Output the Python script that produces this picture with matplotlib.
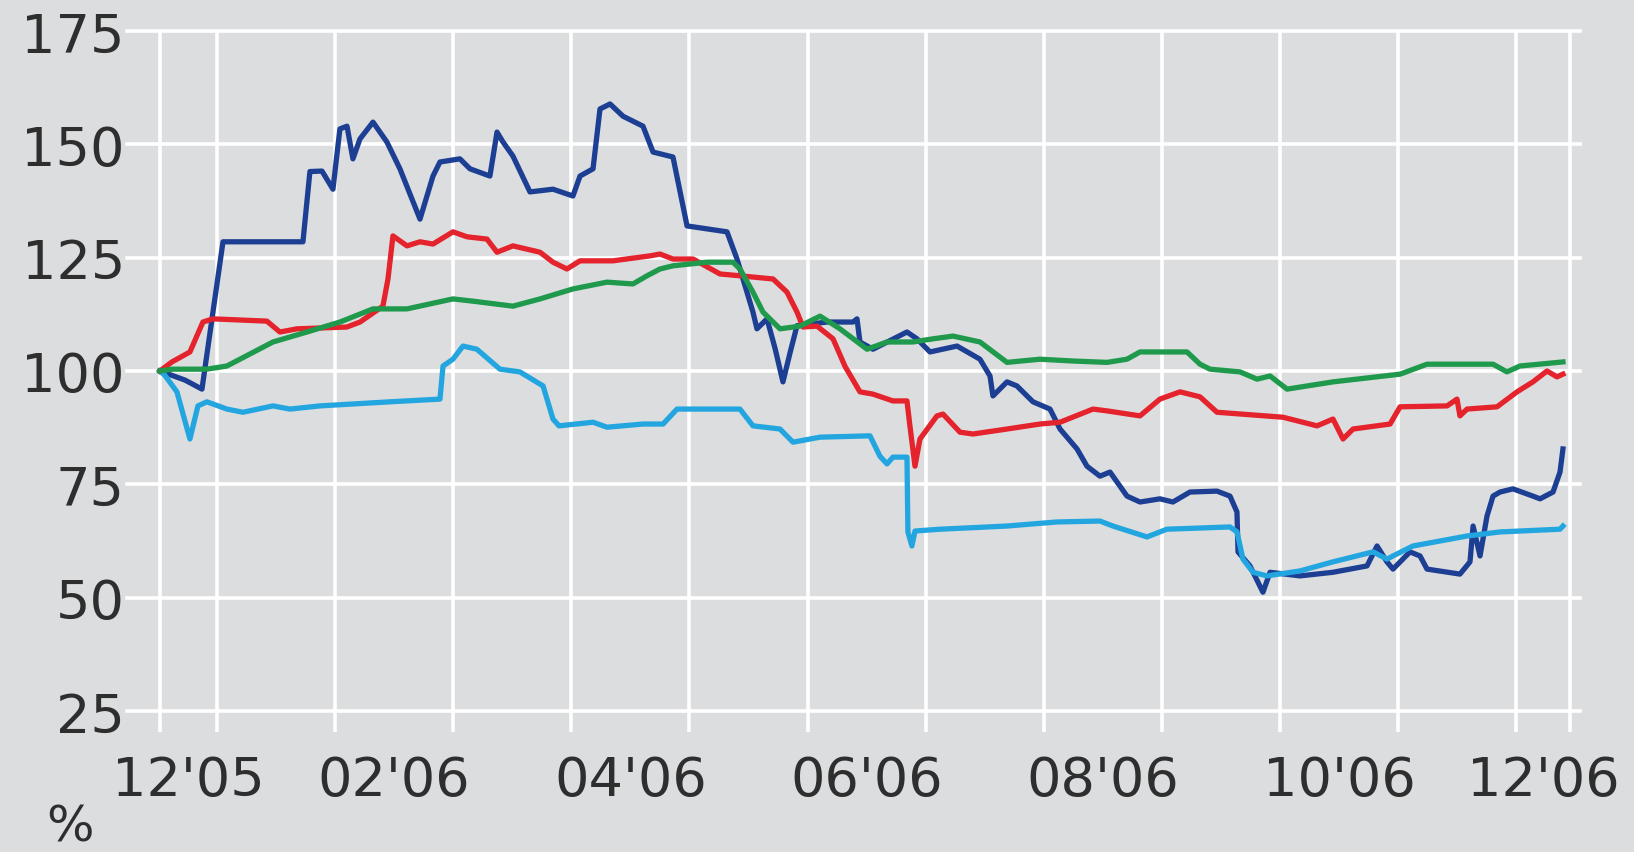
import matplotlib.pyplot as plt

# time axis: months since 1 Dec 2005 (1 = start of Jan '06, 12 = start of Dec '06)
t_start = 0.517
t_end = 12.456

t_navy = [0.517, 0.729, 0.873, 1.051, 1.728, 1.787, 1.889, 1.982, 2.041, 2.101, 2.151, 2.211, 2.321,
          2.439, 2.549, 2.719, 2.829, 2.888, 3.057, 3.142, 3.311, 3.371, 3.422, 3.506, 3.650, 3.845,
          4.014, 4.074, 4.184, 4.243, 4.328, 4.438, 4.607, 4.692, 4.861, 4.980, 5.318, 5.403, 5.538,
          5.572, 5.657, 5.725, 5.792, 5.852, 5.911, 6.165, 6.385, 6.419, 6.444, 6.554, 6.842, 6.927,
          7.037, 7.266, 7.460, 7.545, 7.570, 7.689, 7.773, 7.909, 8.053, 8.138, 8.282, 8.366, 8.476,
          8.561, 8.705, 8.815, 8.984, 9.094, 9.238, 9.467, 9.577, 9.636, 9.645, 9.746, 9.856, 9.916,
          10.170, 10.449, 10.737, 10.822, 10.906, 10.957, 11.101, 11.186, 11.245, 11.524, 11.609,
          11.635, 11.694, 11.753, 11.804, 11.863, 11.973, 12.142, 12.202, 12.312, 12.371, 12.396]
v_navy = [100, 98, 96, 128.5, 128.5, 144, 144.1, 140.1, 153.4, 154.0, 146.8, 151.2, 154.9,
          150.5, 144.6, 133.5, 143.0, 146.1, 146.8, 144.6, 143.0, 152.7, 150.5, 147.4, 139.5, 140.1,
          138.6, 143.0, 144.6, 157.8, 158.9, 156.2, 154.0, 148.3, 147.2, 132.0, 130.7, 124.7, 113.0,
          109.3, 111.5, 105, 97.6, 104, 110, 110.8, 110.8, 111.5, 106.4, 104.8, 108.6, 107.1,
          104.2, 105.5, 102.6, 98.9, 94.5, 97.6, 96.7, 93.2, 91.6, 87.2, 82.8, 79.0, 76.8,
          77.7, 72.4, 71.1, 71.8, 71.1, 73.3, 73.5, 72.4, 68.9, 60.1, 57.0, 51.2, 55.6,
          54.8, 55.6, 57.0, 61.4, 57.9, 56.3, 60.1, 59.2, 56.3, 55.2, 57.9,
          65.8, 59.2, 68.0, 72.4, 73.3, 74.0, 72.4, 71.8, 73.3, 77.7, 82.8]

t_red = [0.517, 0.619, 0.771, 0.881, 0.966, 1.423, 1.533, 1.677, 2.100, 2.211, 2.405, 2.448, 2.490,
         2.609, 2.719, 2.829, 2.998, 3.117, 3.286, 3.371, 3.506, 3.735, 3.845, 3.963, 4.074, 4.353,
         4.667, 4.751, 4.861, 5.031, 5.259, 5.428, 5.708, 5.826, 5.911, 5.962, 6.081, 6.216, 6.318,
         6.444, 6.554, 6.723, 6.842, 6.867, 6.910, 6.952, 7.096, 7.147, 7.291, 7.401, 7.689, 7.968,
         8.138, 8.417, 8.536, 8.815, 8.984, 9.154, 9.323, 9.467, 10.026, 10.314, 10.449, 10.534,
         10.619, 10.932, 11.017, 11.415, 11.499, 11.524, 11.584, 11.838, 12.007, 12.142, 12.261,
         12.346, 12.396]
v_red = [100, 102, 104.2, 110.8, 111.5, 111.0, 108.6, 109.3, 109.7, 110.8, 114.3, 120.3, 129.8,
         127.6, 128.5, 128.0, 130.7, 129.6, 129.1, 126.2, 127.6, 126.2, 124.0, 122.5, 124.3, 124.3,
         125.4, 125.8, 124.7, 124.7, 121.4, 121.0, 120.3, 117.4, 113.0, 109.7, 109.9, 107.1, 101,
         95.4, 94.9, 93.4, 93.4, 87.9, 79.0, 85.0, 90.1, 90.5, 86.5, 86.1, 87.2, 88.3,
         88.7, 91.6, 91.2, 90.1, 93.8, 95.4, 94.3, 90.9, 89.8, 87.9, 89.4, 85.0,
         87.2, 88.3, 92.1, 92.3, 93.8, 90.1, 91.6, 92.1, 95.4, 97.6, 100.0,
         98.7, 99.3]

t_green = [0.517, 0.619, 0.915, 1.084, 1.474, 1.762, 2.041, 2.321, 2.609, 2.998, 3.168, 3.506, 3.735,
           4.014, 4.302, 4.522, 4.641, 4.751, 4.861, 5.149, 5.369, 5.428, 5.538, 5.623, 5.767, 5.936,
           6.106, 6.275, 6.504, 6.673, 6.893, 7.063, 7.232, 7.460, 7.689, 7.968, 8.248, 8.536, 8.705,
           8.815, 9.213, 9.323, 9.408, 9.662, 9.806, 9.916, 10.060, 10.449, 11.017, 11.245, 11.804,
           11.922, 12.032, 12.396]
v_green = [100, 100.4, 100.4, 101.1, 106.4, 108.6, 110.8, 113.7, 113.7, 115.9, 115.4, 114.3, 115.9,
           118.1, 119.6, 119.2, 121.0, 122.5, 123.2, 124.0, 124.0, 122.5, 117.4, 113.0, 109.3, 109.9,
           112.1, 109.3, 104.8, 106.4, 106.4, 107.1, 107.7, 106.4, 101.9, 102.6, 102.2, 101.9, 102.6,
           104.2, 104.2, 101.5, 100.4, 99.8, 98.2, 98.9, 96.0, 97.6, 99.3, 101.5, 101.5,
           99.8, 101.1, 102.0]

t_light = [0.517, 0.560, 0.661, 0.771, 0.839, 0.915, 1.084, 1.220, 1.474, 1.618, 1.872, 2.464, 2.888,
           2.914, 2.998, 3.083, 3.201, 3.396, 3.565, 3.761, 3.845, 3.896, 4.184, 4.302, 4.607, 4.777,
           4.895, 5.428, 5.538, 5.767, 5.877, 6.106, 6.529, 6.613, 6.673, 6.723, 6.842, 6.850, 6.884,
           6.910, 7.122, 7.689, 8.112, 8.476, 8.586, 8.874, 9.043, 9.577, 9.636, 9.687, 9.772, 9.890,
           10.170, 10.449, 10.788, 10.906, 10.957, 11.126, 11.584, 11.863, 12.371, 12.396]
v_light = [100, 99, 95.4, 85.0, 92.3, 93.2, 91.6, 90.9, 92.3, 91.6, 92.3, 93.2, 93.8,
           101.1, 102.6, 105.5, 104.8, 100.4, 99.8, 96.7, 89.4, 87.9, 88.7, 87.6, 88.3, 88.3,
           91.6, 91.6, 87.9, 87.2, 84.3, 85.4, 85.7, 81.2, 79.5, 81.0, 81.0, 64.5, 61.4,
           64.7, 65.1, 65.8, 66.7, 66.9, 65.8, 63.4, 65.1, 65.6, 64.5, 58.5, 55.6, 54.8,
           55.9, 57.9, 60.1, 58.5, 59.2, 61.4, 63.6, 64.5, 65.1, 65.8]

month_labels = ["12'05", "02'06", "04'06", "06'06", "08'06", "10'06", "12'06"]
label_months = [0, 2, 4, 6, 8, 10, 12]
y_ticks = [25, 50, 75, 100, 125, 150, 175]

bg = '#dcdddf'
text_color = '#2e2e2e'

fig = plt.figure(figsize=(16.34, 8.53), dpi=100, facecolor=bg)
ax = fig.add_axes([0.0777, 0.1653, 0.8893, 0.7972], facecolor=bg)

# month grid: data start, each month boundary, data end
grid_months = [t_start] + list(range(1, 13)) + [t_end]
ax.set_xticks(grid_months)
ax.set_xticklabels([''] * len(grid_months))
ax.tick_params(axis='x', which='major', direction='out', length=15, width=2.6, color='white')

# month labels sit in the middle of the visible part of each month
centers = [(max(m, t_start) + min(m + 1, t_end)) / 2 for m in label_months]
ax.set_xticks(centers, minor=True)
ax.set_xticklabels(month_labels, minor=True)
ax.tick_params(axis='x', which='minor', length=0, pad=31, labelsize=39, labelcolor=text_color)

ax.set_yticks(y_ticks)
ax.tick_params(axis='y', length=0, pad=1.5, labelsize=39, labelcolor=text_color)

ax.set_xlim(0.238, 12.541)
ax.set_ylim(25, 175)
ax.grid(True, which='major', color='white', linewidth=2.6)
for line in ax.get_xgridlines() + ax.get_ygridlines():
    line.set_clip_on(False)
for spine in ax.spines.values():
    spine.set_visible(False)

lw = 3.8
ax.plot(t_navy, v_navy, color='#1d3f93', linewidth=lw, solid_joinstyle='round', zorder=3)
ax.plot(t_light, v_light, color='#23a6df', linewidth=lw, solid_joinstyle='round', zorder=4)
ax.plot(t_red, v_red, color='#e4232d', linewidth=lw, solid_joinstyle='round', zorder=5)
ax.plot(t_green, v_green, color='#1f9a4c', linewidth=lw, solid_joinstyle='round', zorder=6)

fig.text(0.028, 0.002, '%', fontsize=36, color=text_color, ha='left', va='bottom')

fig.savefig('out.png', dpi=100, facecolor=bg)
